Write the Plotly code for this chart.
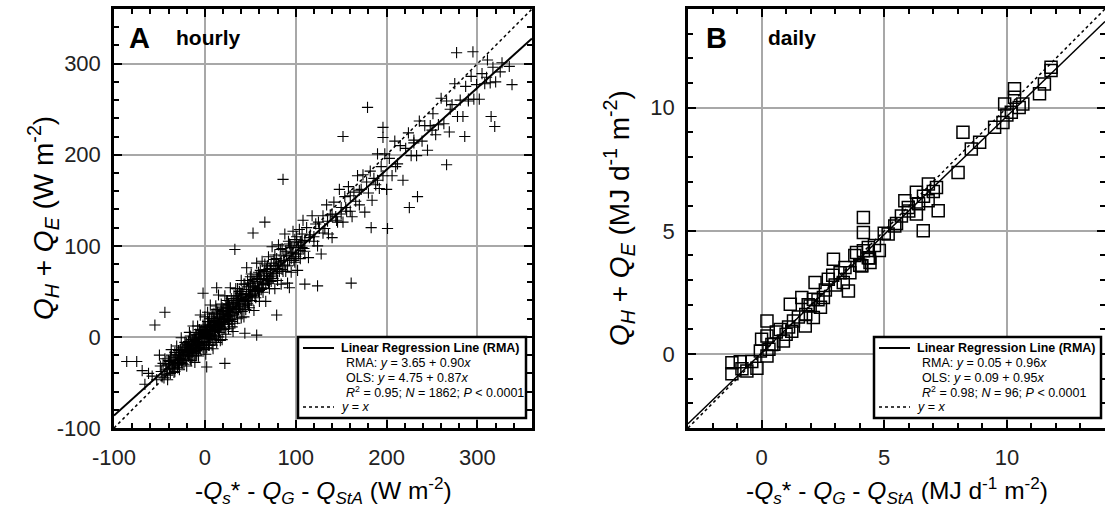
import plotly.graph_objects as go

# ---------------- data ----------------
hourly_x = [
    -58,-53,-49,-47,-44,-42,-41,-39,-37,-36,
    -35,-34,-33,-32,-31,-30,-29,-28,-27,-26,
    -25,-24,-23,-22,-21,-20,-20,-19,-18,-17,
    -17,-16,-15,-15,-14,-13,-12,-12,-11,-10,
    -10,-9,-8,-8,-7,-6,-6,-5,-4,-3,
    -2,-2,-1,0,0,1,1,2,3,3,
    4,4,5,6,6,7,8,8,9,10,
    10,11,12,12,13,14,15,15,16,17,
    18,18,19,20,21,22,22,23,24,25,
    26,27,27,28,29,30,31,32,33,34,
    -1,2,5,7,9,11,13,16,19,21,
    24,26,28,30,32,34,35,36,37,38,
    0,3,6,9,12,14,17,20,23,26,
    39,40,41,42,43,44,45,46,47,48,
    49,50,51,52,53,54,55,56,57,58,
    59,60,61,62,63,64,65,66,67,68,
    69,70,71,72,73,74,75,76,77,78,
    36,38,40,42,44,46,48,50,52,54,
    56,58,60,62,64,66,68,70,72,74,
    79,80,81,82,83,84,85,86,87,88,
    89,90,91,92,93,94,95,96,97,98,
    99,100,101,102,103,104,105,106,107,108,
    110,112,114,116,118,120,122,124,126,128,
    130,132,134,136,138,140,142,144,146,148,
    150,152,154,156,158,160,95,105,115,125,
    135,145,155,100,110,120,130,140,150,160,
    162,164,166,168,170,172,174,176,178,180,
    182,184,186,188,190,192,194,196,198,200,
    203,206,209,212,215,218,221,224,227,230,
    233,236,239,242,245,248,251,254,257,260,
    263,266,269,272,275,278,281,284,287,290,
    293,296,299,302,305,308,311,314,317,320,
    170,190,210,230,250,270,290,310,325,335,
    179,196,196,152,86,161,183,124,110,277,
    295,338,319,315,286,266,201,225,234,327,
    -86,-75,-69,-55,-44,-41,2,22,-2,13,
    33,53,66,79,93,57,44,-62,-66,-50,
    -30,-26,-22,-18,-14,-10,-6,-2,2,6,
    -28,-24,-19,-15,-11,-7,-3,1,5,8,
    10,12,14,16,18,20,22,25,28,31,
    -40,-36,-32,-28,-24,-20,-16,-12,-8,-4,
    -48,-46,-45,-43,-40,-38,-38,-35,-33,-31,
    -29,-27,-25,-23,-21,-19,-17,-16,-14,-13,
    -12,-11,-9,-9,-7,-5,-4,-3,-1,0,
    -44,-39,-34,-30,-26,-22,-18,-14,-10,-6,
    -37,-33,-29,-25,-21,-17,-13,-9,-5,-1,
    1,2,3,4,5,6,7,8,9,10,
    11,12,13,14,15,16,17,18,19,20,
    21,22,23,24,25,26,27,28,29,30,
    31,32,33,34,35,36,37,38,39,40,
    41,42,43,44,45,46,47,48,49,50,
    5,10,15,20,25,30,35,40,45,50,
    51,53,55,57,59,61,63,65,67,69,
    71,73,75,77,79,81,83,85,87,89,
    91,93,95,97,99,101,103,105,107,109,
    52,56,60,64,68,72,76,80,84,88,
]
hourly_y = [
    -43,-47,-32,-44,-24,-36,-42,-27,-14,-35,
    -25,-39,-17,-29,-10,-31,-21,-36,-14,-1,
    -25,-14,-30,-6,-17,-7,-32,-10,-21,5,
    -15,1,-26,-8,-17,12,-18,-2,-28,3,
    -18,2,-6,12,-21,8,-7,24,-10,4,
    -12,13,-2,22,-5,-19,11,-6,27,4,
    -9,17,2,35,-2,13,-9,25,8,20,
    -2,16,7,34,-6,27,15,46,5,24,
    10,36,-3,26,17,45,9,34,24,40,
    9,35,23,54,19,33,6,45,27,53,
    11,4,20,2,13,2,22,12,32,20,
    32,18,31,17,38,31,45,20,40,50,
    6,1,13,11,10,20,11,29,22,28,
    31,62,28,47,22,58,43,76,37,55,
    32,52,69,45,63,29,61,43,81,53,
    71,39,64,52,83,49,64,80,39,74,
    62,88,53,75,61,99,70,85,53,78,
    40,33,47,41,35,47,44,59,45,54,
    52,64,51,63,58,72,64,59,74,68,
    86,62,101,72,82,58,97,72,89,113,
    72,90,59,105,84,100,71,92,116,84,
    107,88,104,73,100,118,86,105,98,128,
    94,120,87,112,133,105,124,100,119,91,
    133,119,145,113,134,109,148,132,126,162,
    142,126,154,138,165,138,98,95,109,126,
    127,128,142,91,106,110,114,135,135,155,
    132,159,149,177,145,162,178,137,170,158,
    182,150,174,167,201,163,187,177,201,162,
    196,177,215,190,210,172,207,224,199,213,
    199,237,215,232,205,232,245,222,233,262,
    234,259,225,255,278,242,260,242,275,259,
    286,261,277,261,289,278,304,279,296,280,
    161,172,187,216,227,250,261,285,291,297,
    252,230,219,220,173,59,120,56,58,312,
    313,277,231,242,220,189,119,142,154,301,
    -27,-27,-37,13,27,-47,-33,-29,48,54,
    96,114,126,24,54,2,4,-40,-52,-20,
    -26,-17,-19,-9,-13,-3,-1,4,3,10,
    -19,-24,-15,-14,-4,-9,0,2,12,9,
    10,17,13,21,14,25,20,27,24,33,
    -30,-33,-23,-25,-20,-16,-12,-8,-9,-1,
    -38,-29,-45,-31,-26,-40,-22,-33,-28,-19,
    -30,-24,-12,-22,-26,-18,-13,-25,-3,-16,
    -11,-1,-15,-6,3,-13,7,-8,-14,10,
    -41,-35,-31,-34,-28,-11,-5,-21,-10,-12,
    -20,-38,-15,-29,-8,-20,-5,-20,5,-7,
    7,-12,17,0,-9,4,20,1,-13,26,
    6,-3,30,9,0,13,-4,28,16,8,
    31,14,3,40,19,36,14,23,42,11,
    38,24,15,42,27,53,30,36,48,21,
    50,34,58,40,30,52,62,35,47,66,
    -1,18,8,17,29,26,37,43,39,45,
    40,59,47,66,50,73,54,70,58,78,
    62,81,64,90,70,80,96,74,84,94,
    78,102,86,93,82,110,91,104,113,97,
    56,50,68,57,67,66,78,75,83,79,
]

daily_x = [
    -1.21,-0.87,-1.21,-0.60,-0.19,-0.05,0.22,0.22,0.22,0.42,
    0.76,0.89,1.23,1.30,1.17,1.64,1.78,1.98,2.11,2.11,
    2.18,2.52,2.72,2.93,3.40,3.33,3.54,3.87,4.08,4.35,
    4.42,4.15,4.15,4.15,4.35,4.08,5.16,5.43,5.84,5.98,
    6.31,6.31,6.59,6.79,7.20,7.13,8.01,8.21,8.55,8.89,
    9.84,9.91,10.18,10.31,10.31,10.65,11.33,11.53,11.80,
    0.0,0.5,0.6,1.0,1.5,1.8,2.3,2.6,3.0,3.2,
    3.6,4.0,4.6,5.0,5.5,5.7,6.0,6.4,6.6,7.0,
    -0.4,-0.8,0.3,1.1,1.9,2.4,2.9,3.8,4.4,4.8,
    6.8,10.0,10.5,11.8,9.5,
]
daily_y = [
    -0.35,-0.31,-0.80,-0.69,-0.58,0.12,-0.08,1.34,0.73,0.39,
    1.00,0.53,0.93,1.34,2.02,2.29,1.14,1.95,1.48,2.22,
    2.90,2.29,3.04,3.85,3.51,2.90,2.56,4.12,3.58,4.32,
    3.71,5.54,4.93,4.19,3.91,3.58,4.87,5.20,6.22,5.95,
    6.56,5.68,5.00,6.22,5.81,6.76,7.37,9.00,8.32,8.59,
    9.40,10.15,9.81,10.76,10.42,10.15,10.56,10.96,11.64,
    0.6,0.4,0.9,0.8,1.5,1.6,2.2,2.6,2.8,3.3,
    3.3,3.6,4.4,4.9,5.3,5.6,5.8,6.1,6.4,6.6,
    -0.3,-0.6,0.2,1.1,2.0,1.9,3.2,4.0,3.9,4.2,
    6.9,9.7,10.0,11.5,9.2,
]

# regression (RMA) coefficients
rma_hourly = (3.65, 0.90)
rma_daily = (0.05, 0.96)

range_hourly = [-100, 360]
range_daily = [-3, 14]
ticks_hourly = [-100, 0, 100, 200, 300]
ticklabels_hourly = ["-100", "0", "100", "200", "300"]
ticks_daily = [0, 5, 10]
ticklabels_daily = ["0", "5", "10"]

legend_hourly = ["RMA: <i>y</i> = 3.65 + 0.90<i>x</i>",
                 "OLS: <i>y</i> = 4.75 + 0.87<i>x</i>",
                 "<i>R</i><sup>2</sup> = 0.95; <i>N</i> = 1862; <i>P</i> &lt; 0.0001"]
legend_daily = ["RMA: <i>y</i> = 0.05 + 0.96<i>x</i>",
                "OLS: <i>y</i> = 0.09 + 0.95<i>x</i>",
                "<i>R</i><sup>2</sup> = 0.98; <i>N</i> = 96; <i>P</i> &lt; 0.0001"]

# ---------------- figure ----------------
W, H = 1105, 510
FONT = "Liberation Sans, Arial, sans-serif"


def px(x):
    return x / W


def py(y):
    return 1 - y / H


fig = go.Figure()

# panel A
fig.add_trace(go.Scatter(x=hourly_x, y=hourly_y, mode="markers", xaxis="x", yaxis="y",
                         marker=dict(symbol="cross-thin-open", size=8, color="black",
                                     line=dict(color="rgba(0,0,0,0.85)", width=1.1)),
                         showlegend=False, hoverinfo="skip"))
fig.add_trace(go.Scatter(x=range_hourly, y=range_hourly, mode="lines", xaxis="x", yaxis="y",
                         line=dict(color="black", width=1.5, dash="dot"), showlegend=False))
fig.add_trace(go.Scatter(x=range_hourly,
                         y=[rma_hourly[0] + rma_hourly[1] * v for v in range_hourly],
                         mode="lines", xaxis="x", yaxis="y",
                         line=dict(color="black", width=2), showlegend=False))

# panel B
fig.add_trace(go.Scatter(x=daily_x, y=daily_y, mode="markers", xaxis="x2", yaxis="y2",
                         marker=dict(symbol="square-open", size=12, color="black",
                                     line=dict(color="black", width=1.5)),
                         showlegend=False, hoverinfo="skip"))
fig.add_trace(go.Scatter(x=range_daily, y=range_daily, mode="lines", xaxis="x2", yaxis="y2",
                         line=dict(color="black", width=1.5, dash="dot"), showlegend=False))
fig.add_trace(go.Scatter(x=range_daily,
                         y=[rma_daily[0] + rma_daily[1] * v for v in range_daily],
                         mode="lines", xaxis="x2", yaxis="y2",
                         line=dict(color="black", width=1.5), showlegend=False))


def axis(rng, ticks, labels, dom, minor_dt, anchor, standoff):
    return dict(range=rng, domain=dom, anchor=anchor, tickvals=ticks, ticktext=labels,
                automargin=False, ticklabelstandoff=standoff,
                showline=True, linecolor="black", linewidth=2.5, mirror="ticks",
                ticks="inside", ticklen=8, tickwidth=2, tickcolor="black",
                minor=dict(ticks="inside", ticklen=5, tickwidth=1.5, dtick=minor_dt,
                           tickcolor="black", showgrid=False),
                showgrid=True, gridcolor="#a8a8a8", gridwidth=1.5, zeroline=False,
                tickfont=dict(family=FONT, size=22, color="#222"), fixedrange=True)


ydom = [py(428), py(9)]
fig.update_layout(
    width=W, height=H, margin=dict(l=0, r=0, t=0, b=0, autoexpand=False),
    paper_bgcolor="white", plot_bgcolor="white",
    xaxis=axis(range_hourly, ticks_hourly, ticklabels_hourly, [px(114), px(532)], 20, "y", 8),
    yaxis=axis(range_hourly, ticks_hourly, ticklabels_hourly, ydom, 20, "x", 6),
    xaxis2=axis(range_daily, ticks_daily, ticklabels_daily, [px(688), 1.0], 1, "y2", 8),
    yaxis2=axis(range_daily, ticks_daily, ticklabels_daily, ydom, 1, "x2", 6),
    font=dict(family=FONT, color="black"),
)

ann = []


def text(x, y, t, size, anchor="left", angle=0, bold=False, yanchor="middle"):
    ann.append(dict(x=px(x), y=py(y), xref="paper", yref="paper",
                    text=("<b>%s</b>" % t) if bold else t,
                    showarrow=False, xanchor=anchor, yanchor=yanchor, textangle=angle,
                    borderpad=0, font=dict(family=FONT, size=size, color="black")))


# panel letters
text(128, 38, "A", 29, bold=True)
text(175, 38, "hourly", 21, bold=True)
text(705, 38, "B", 29, bold=True)
text(767, 38, "daily", 21, bold=True)

# axis titles
ytA = "<i>Q</i><sub><i>H</i></sub> + <i>Q</i><sub><i>E</i></sub> (W m<sup>-2</sup>)"
ytB = "<i>Q</i><sub><i>H</i></sub> + <i>Q</i><sub><i>E</i></sub> (MJ d<sup>-1</sup> m<sup>-2</sup>)"
xtA = "-<i>Q</i><sub><i>s</i></sub>* - <i>Q</i><sub><i>G</i></sub> - <i>Q</i><sub><i>StA</i></sub> (W m<sup>-2</sup>)"
xtB = "-<i>Q</i><sub><i>s</i></sub>* - <i>Q</i><sub><i>G</i></sub> - <i>Q</i><sub><i>StA</i></sub> (MJ d<sup>-1</sup> m<sup>-2</sup>)"
text(43, 218, ytA, 28, anchor="center", angle=-90)
text(619, 218, ytB, 28, anchor="center", angle=-90)
text(323, 490, xtA, 24.5, anchor="center")
text(897, 490, xtB, 24.5, anchor="center")

shapes = []


def legend_box(x0, y0, x1, y1, lines):
    shapes.append(dict(type="rect", xref="paper", yref="paper", x0=px(x0), x1=px(x1),
                       y0=py(y1), y1=py(y0), line=dict(color="black", width=2.5),
                       fillcolor="white", layer="above"))
    shapes.append(dict(type="line", xref="paper", yref="paper", x0=px(x0 + 5), x1=px(x0 + 36),
                       y0=py(y0 + 11), y1=py(y0 + 11), line=dict(color="black", width=2),
                       layer="above"))
    shapes.append(dict(type="line", xref="paper", yref="paper", x0=px(x0 + 5), x1=px(x0 + 36),
                       y0=py(y0 + 70), y1=py(y0 + 70), line=dict(color="black", width=1.5, dash="dot"),
                       layer="above"))
    text(x0 + 42, y0 + 11, "Linear Regression Line (RMA)", 12.5, bold=True)
    for i, t in enumerate(lines):
        text(x0 + 47, y0 + 26 + 14.5 * i, t, 12.5)
    text(x0 + 42, y0 + 70, "<i>y</i> = <i>x</i>", 12.5)


legend_box(298, 337, 526, 418, legend_hourly)
legend_box(874, 337, 1101, 418, legend_daily)

fig.update_layout(annotations=ann, shapes=shapes)
fig.write_html("out.html")
